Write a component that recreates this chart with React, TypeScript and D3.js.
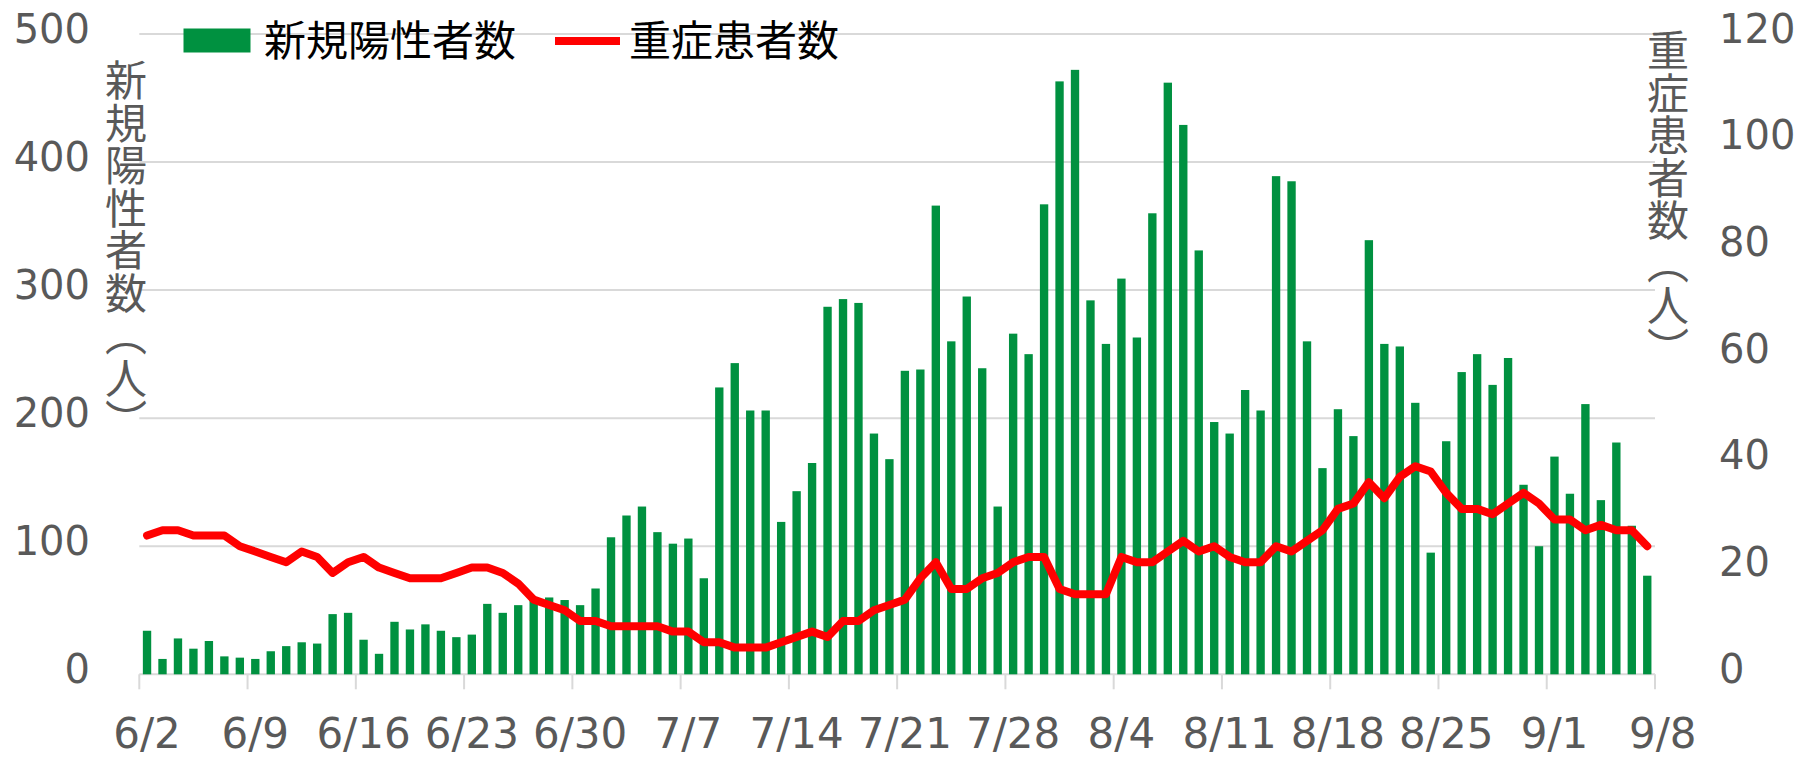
import * as d3 from "d3";
import React from "react";

// 6/2 .. 9/7 (2020), axis closes at 9/8
const startDate = new Date(2020, 5, 2);
const endDate = new Date(2020, 8, 8);
const dates = d3.timeDay.range(startDate, endDate);

const newCases = [
  34, 12, 28, 20, 26, 14, 13, 12, 18, 22,
  25, 24, 47, 48, 27, 16, 41, 35, 39, 34,
  29, 31, 55, 48, 54, 58, 60, 58, 54, 67,
  107, 124, 131, 111, 102, 106, 75, 224, 243, 206,
  206, 119, 143, 165, 287, 293, 290, 188, 168, 237,
  238, 366, 260, 295, 239, 131, 266, 250, 367, 463,
  472, 292, 258, 309, 263, 360, 462, 429, 331, 197,
  188, 222, 206, 389, 385, 260, 161, 207, 186, 339,
  258, 256, 212, 95, 182, 236, 250, 226, 247, 148,
  100, 170, 141, 211, 136, 181, 116, 77,
];

const severe = [
  26, 27, 27, 26, 26, 26, 24, 23, 22, 21,
  23, 22, 19, 21, 22, 20, 19, 18, 18, 18,
  19, 20, 20, 19, 17, 14, 13, 12, 10, 10,
  9, 9, 9, 9, 8, 8, 6, 6, 5, 5,
  5, 6, 7, 8, 7, 10, 10, 12, 13, 14,
  18, 21, 16, 16, 18, 19, 21, 22, 22, 16,
  15, 15, 15, 22, 21, 21, 23, 25, 23, 24,
  22, 21, 21, 24, 23, 25, 27, 31, 32, 36,
  33, 37, 39, 38, 34, 31, 31, 30, 32, 34,
  32, 29, 29, 27, 28, 27, 27, 24,
];

const leftTicks = [0, 100, 200, 300, 400, 500];
const rightTicks = [0, 20, 40, 60, 80, 100, 120];
const weekStarts = d3.range(0, dates.length + 1, 7);

const leftTitle = ["新", "規", "陽", "性", "者", "数", "︵", "人", "︶"];
const rightTitle = ["重", "症", "患", "者", "数", "︵", "人", "︶"];
const legendBar = "新規陽性者数";
const legendLine = "重症患者数";

const W = 1802;
const H = 757;
const margin = { left: 139.3, right: 147, top: 34, bottom: 82.7 };

const GREEN = "#009140";
const RED = "#ff0000";
const GRID = "#d9d9d9";
const GRAY = "#595959";
const LATIN = "'DejaVu Sans', Verdana, sans-serif";
const CJK = "'Noto Sans CJK JP', sans-serif";

const fmt = d3.timeFormat("%-m/%-d");

export default function App() {
  const x0 = margin.left;
  const x1 = W - margin.right;
  const y0 = H - margin.bottom;
  const keys = dates.map((d) => fmt(d));

  const x = d3
    .scaleBand<string>()
    .domain(keys)
    .range([x0, x1])
    .paddingInner(0.46)
    .paddingOuter(0.23);

  // index -> pixel, for ticks and labels on the category edges
  const xi = d3.scaleLinear().domain([0, dates.length]).range([x0, x1]);

  const yL = d3.scaleLinear().domain([0, 500]).range([y0, margin.top]);
  const yR = d3.scaleLinear().domain([0, 120]).range([y0, margin.top]);

  const line = d3
    .line<number>()
    .x((_, i) => (x(keys[i]) as number) + x.bandwidth() / 2)
    .y((d) => yR(d));

  const titleSize = 42.5;

  return (
    <svg
      width={W}
      height={H}
      viewBox={`0 0 ${W} ${H}`}
      style={{ position: "absolute", left: 0, top: 0, background: "#fff" }}
    >
      {/* Grid */}
      {leftTicks.map((t) => (
        <line
          key={"g" + t}
          x1={x0}
          x2={x1}
          y1={yL(t)}
          y2={yL(t)}
          stroke={GRID}
          strokeWidth={2}
        />
      ))}

      {/* X ticks */}
      {weekStarts.map((k) => (
        <line
          key={"t" + k}
          x1={xi(k)}
          x2={xi(k)}
          y1={y0}
          y2={y0 + 15}
          stroke={GRID}
          strokeWidth={2}
        />
      ))}

      {/* Bars */}
      {newCases.map((v, i) => (
        <rect
          key={"b" + i}
          x={x(keys[i])}
          y={yL(v)}
          width={x.bandwidth()}
          height={y0 - yL(v)}
          fill={GREEN}
        />
      ))}

      {/* Line */}
      <path
        d={line(severe) || ""}
        fill="none"
        stroke={RED}
        strokeWidth={8}
        strokeLinejoin="round"
        strokeLinecap="round"
      />

      {/* Left axis labels */}
      {leftTicks.map((t) => (
        <text
          key={"l" + t}
          x={90}
          y={yL(t) + 8.5}
          textAnchor="end"
          fontFamily={LATIN}
          fontSize={40}
          fill={GRAY}
        >
          {t}
        </text>
      ))}

      {/* Right axis labels */}
      {rightTicks.map((t) => (
        <text
          key={"r" + t}
          x={1719}
          y={yR(t) + 8.5}
          textAnchor="start"
          fontFamily={LATIN}
          fontSize={40}
          fill={GRAY}
        >
          {t}
        </text>
      ))}

      {/* X labels */}
      {weekStarts.map((k) => (
        <text
          key={"x" + k}
          x={xi(k + 0.5)}
          y={748}
          textAnchor="middle"
          fontFamily={LATIN}
          fontSize={42}
          fill={GRAY}
        >
          {fmt(d3.timeDay.offset(startDate, k))}
        </text>
      ))}

      {/* Axis titles, one character per cell */}
      {leftTitle.map((c, i) => (
        <text
          key={"lt" + i}
          x={126}
          y={80 + i * titleSize + 16}
          textAnchor="middle"
          fontFamily={CJK}
          fontSize={42}
          fill={GRAY}
        >
          {c}
        </text>
      ))}
      {rightTitle.map((c, i) => (
        <text
          key={"rt" + i}
          x={1668}
          y={50 + i * titleSize + 16}
          textAnchor="middle"
          fontFamily={CJK}
          fontSize={42}
          fill={GRAY}
        >
          {c}
        </text>
      ))}

      {/* Legend */}
      <rect x={183.5} y={28.5} width={67} height={24} fill={GREEN} />
      <text x={264} y={56} fontFamily={CJK} fontSize={42} fill="#000">
        {legendBar}
      </text>
      <line x1={555} x2={620} y1={41} y2={41} stroke={RED} strokeWidth={8} />
      <text x={629} y={56} fontFamily={CJK} fontSize={42} fill="#000">
        {legendLine}
      </text>
    </svg>
  );
}
